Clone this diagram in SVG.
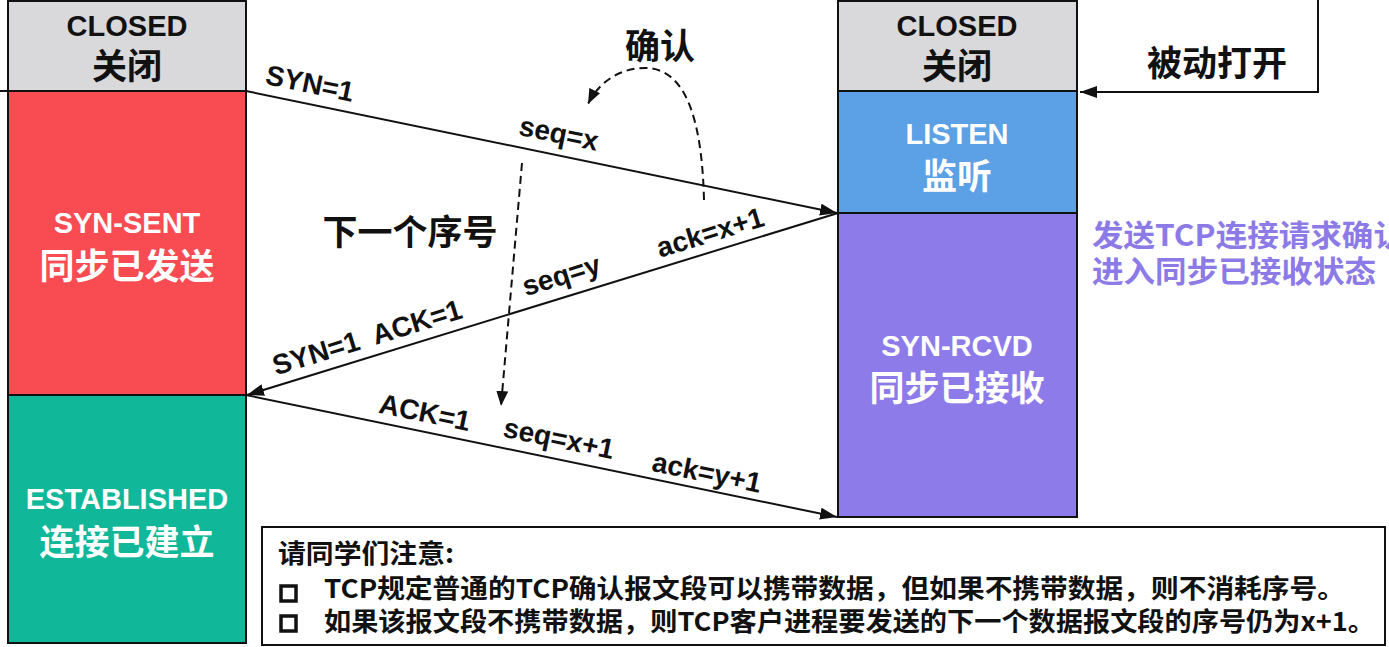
<svg xmlns="http://www.w3.org/2000/svg" width="1389" height="647" viewBox="0 0 1389 647">
<style>
.box{stroke:#111;stroke-width:2}
.en{font-family:"Liberation Sans","Noto Sans CJK SC",sans-serif;font-weight:bold;font-size:29px;text-anchor:middle}
.cn{font-family:"Noto Sans CJK SC","Liberation Sans",sans-serif;font-weight:bold;font-size:35px;text-anchor:middle}
.w{fill:#fff}
.k{fill:#111}
.lbl{font-family:"Liberation Sans",sans-serif;font-weight:bold;font-size:28px;text-anchor:middle;fill:#111}
.ln{stroke:#111;stroke-width:2;fill:none}
.dash{stroke:#111;stroke-width:2;fill:none;stroke-dasharray:8 5}
.note{font-family:"Noto Sans CJK SC","Liberation Sans",sans-serif;font-weight:bold;font-size:26px;fill:#111}
.pur{font-family:"Noto Sans CJK SC","Liberation Sans",sans-serif;font-weight:bold;font-size:30px;fill:#8c7ae6}
.bul{fill:none;stroke:#111;stroke-width:3.5}
</style>
<defs>
<marker id="ah" markerUnits="userSpaceOnUse" markerWidth="18" markerHeight="12" refX="17" refY="6" orient="auto">
<path d="M0,0 L17,6 L0,12 z" fill="#111"/>
</marker>
<marker id="ahd" markerUnits="userSpaceOnUse" markerWidth="16" markerHeight="12" refX="15" refY="6" orient="auto">
<path d="M0,0 L15,6 L0,12 z" fill="#111"/>
</marker>
</defs>
<rect width="1389" height="647" fill="#fff"/>

<g id="client-closed">
<rect class="box" x="8" y="1" width="238" height="90" fill="#d9d8db"/>
<text class="en k" x="127" y="36">CLOSED</text>
<text class="cn k" x="127" y="79">关闭</text>
</g>
<g id="client-synsent">
<rect class="box" x="8" y="91" width="238" height="304" fill="#f94b52"/>
<text class="en w" x="127" y="233">SYN-SENT</text>
<text class="cn w" x="127" y="279">同步已发送</text>
</g>
<g id="client-established">
<rect class="box" x="8" y="395" width="238" height="248" fill="#10b798"/>
<text class="en w" x="127" y="509">ESTABLISHED</text>
<text class="cn w" x="127" y="555">连接已建立</text>
</g>

<g id="server-closed">
<rect class="box" x="838" y="1" width="239" height="90" fill="#d9d8db"/>
<text class="en k" x="957" y="36">CLOSED</text>
<text class="cn k" x="957" y="79">关闭</text>
</g>
<g id="server-listen">
<rect class="box" x="838" y="91" width="239" height="122" fill="#5ca0e6"/>
<text class="en w" x="957" y="144">LISTEN</text>
<text class="cn w" x="957" y="189">监听</text>
</g>
<g id="server-synrcvd">
<rect class="box" x="838" y="213" width="239" height="304" fill="#8d7bea"/>
<text class="en w" x="957" y="356">SYN-RCVD</text>
<text class="cn w" x="957" y="401">同步已接收</text>
</g>

<g id="passive-open">
<text class="cn k" x="1217" y="76">被动打开</text>
</g>

<g id="server-note">
<text class="pur" x="1092" y="246" textLength="313" lengthAdjust="spacingAndGlyphs">发送TCP连接请求确认</text>
<text class="pur" x="1092" y="282" textLength="284" lengthAdjust="spacingAndGlyphs">进入同步已接收状态</text>
</g>

<g id="confirm-label">
<text class="cn k" x="660" y="59">确认</text>
</g>
<g id="next-seq-label">
<text class="cn k" x="410" y="245">下一个序号</text>
</g>

<g id="connectors">
<line class="ln" x1="0" y1="91" x2="7" y2="91"/>
<polyline class="ln" points="1318,0 1318,92 1080,92" marker-end="url(#ah)"/>
<line class="ln" x1="246" y1="91" x2="837" y2="213" marker-end="url(#ah)"/>
<line class="ln" x1="838" y1="213" x2="247" y2="395" marker-end="url(#ah)"/>
<line class="ln" x1="246" y1="395" x2="837" y2="517" marker-end="url(#ah)"/>
<path class="dash" d="M704,200 C702,120 686,68 645,68 C622,68 600,80 588,104" marker-end="url(#ahd)"/>
<line class="dash" x1="522" y1="163" x2="501" y2="406" marker-end="url(#ahd)"/>
</g>

<g id="labels">
<text class="lbl" transform="translate(310,83) rotate(11.6)" dy="10">SYN=1</text>
<text class="lbl" transform="translate(559,133) rotate(11.6)" dy="10">seq=x</text>
<text class="lbl" transform="translate(367,337) rotate(-17.1)" dy="10" xml:space="preserve">SYN=1  ACK=1</text>
<text class="lbl" transform="translate(561,275) rotate(-17.1)" dy="10">seq=y</text>
<text class="lbl" transform="translate(710,232) rotate(-17.1)" dy="10">ack=x+1</text>
<text class="lbl" transform="translate(425,412) rotate(11.6)" dy="10">ACK=1</text>
<text class="lbl" transform="translate(559,438) rotate(11.6)" dy="10">seq=x+1</text>
<text class="lbl" transform="translate(707,472) rotate(11.6)" dy="10">ack=y+1</text>
</g>

<g id="notice">
<rect x="262" y="527" width="1123" height="118" fill="#fff" stroke="#111" stroke-width="2"/>
<text class="note" x="278" y="563" textLength="176" lengthAdjust="spacingAndGlyphs">请同学们注意:</text>
<rect class="bul" x="281" y="586" width="15" height="15"/>
<text class="note" x="324" y="598" textLength="1021" lengthAdjust="spacingAndGlyphs">TCP规定普通的TCP确认报文段可以携带数据，但如果不携带数据，则不消耗序号。</text>
<rect class="bul" x="281" y="616" width="15" height="15"/>
<text class="note" x="324" y="631" textLength="1051" lengthAdjust="spacingAndGlyphs">如果该报文段不携带数据，则TCP客户进程要发送的下一个数据报文段的序号仍为x+1。</text>
</g>
</svg>
